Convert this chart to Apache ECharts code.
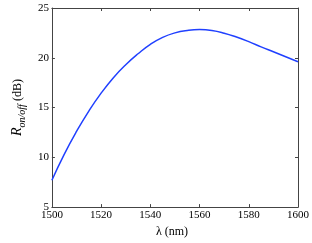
<!DOCTYPE html>
<html><head><meta charset="utf-8">
<script src="https://cdn.jsdelivr.net/npm/echarts@6/dist/echarts.min.js"></script>
<style>html,body{margin:0;padding:0;background:#fff}#c{width:312px;height:243px}</style>
</head><body><div id="c"></div>
<script>
const wavelengths = [1500,1505,1510,1515,1520,1525,1530,1535,1540,1545,1550,1555,1560,1565,1570,1575,1580,1585,1590,1595,1600];
const ronoff = [7.7,10.3,12.6,14.65,16.45,18.0,19.3,20.4,21.35,22.05,22.5,22.74,22.83,22.74,22.47,22.08,21.62,21.1,20.6,20.1,19.6];
const xTicks = [1500,1520,1540,1560,1580,1600];
const yTicks = [5,10,15,20,25];

const font = 'Liberation Serif';
const axisCol = '#444';
const chart = echarts.init(document.getElementById('c'));
const pts = wavelengths.map((w,i)=>[w, ronoff[i]]);
const baseX = {type:'value', min:xTicks[0], max:xTicks[xTicks.length-1], interval:20,
  axisLine:{show:true,onZero:false,lineStyle:{color:axisCol,width:1}},
  axisTick:{show:true,inside:true,length:3,lineStyle:{color:axisCol}},
  splitLine:{show:false}};
const baseY = {type:'value', min:yTicks[0], max:yTicks[yTicks.length-1], interval:5,
  axisLine:{show:true,onZero:false,lineStyle:{color:axisCol,width:1}},
  axisTick:{show:true,inside:true,length:3,lineStyle:{color:axisCol}},
  splitLine:{show:false}};
chart.setOption({
  animation:false,
  grid:{left:33,right:13,top:8,bottom:26,containLabel:false},
  xAxis:[
    Object.assign({}, baseX, {position:'bottom',
      axisLabel:{fontFamily:font,fontSize:11,color:'#000',margin:3,formatter:v=>String(v)},
      name:'λ (nm)', nameLocation:'middle', nameGap:13,
      nameTextStyle:{fontFamily:font,fontSize:12,color:'#000',padding:[0,6,0,0]}}),
    Object.assign({}, baseX, {position:'top', axisLabel:{show:false}})
  ],
  yAxis:[
    Object.assign({}, baseY, {position:'left',
      axisLabel:{fontFamily:font,fontSize:11,color:'#000',margin:3},
      name:'{r|R}{s|on/off}{n| (dB)}', nameLocation:'middle', nameGap:25, nameRotate:90,
      nameTextStyle:{fontFamily:font,color:'#000',
        rich:{
          r:{fontFamily:font,fontStyle:'italic',fontSize:14,color:'#000',lineHeight:18,verticalAlign:'middle'},
          s:{fontFamily:font,fontStyle:'italic',fontSize:10,color:'#000',padding:[9,0,0,0],lineHeight:18},
          n:{fontFamily:font,fontSize:12,color:'#000',lineHeight:18,verticalAlign:'middle'}
        }}}),
    Object.assign({}, baseY, {position:'right', axisLabel:{show:false}})
  ],
  series:[{type:'line', data:pts, smooth:0.5, showSymbol:false, symbol:'none',
    lineStyle:{color:'#2040ff',width:1.5}, xAxisIndex:0, yAxisIndex:0}]
});
</script></body></html>
